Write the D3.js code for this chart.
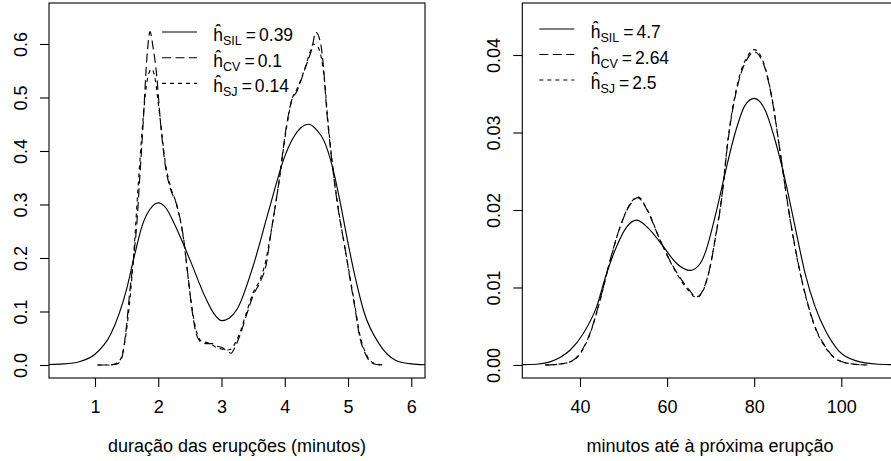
<!DOCTYPE html>
<html><head><meta charset="utf-8">
<script src="https://cdn.jsdelivr.net/npm/d3@7"></script>
<style>
body{margin:0;background:#fff}
svg{display:block}
text{font-family:"Liberation Sans",Arial,Helvetica,sans-serif;fill:#000}
</style>
</head><body>
<svg id="c" width="891" height="461"></svg>
<script>
// ---------- data: eruption duration (left panel) ----------
const erupTicksX = [1, 2, 3, 4, 5, 6];
const erupTicksY = [0, 0.1, 0.2, 0.3, 0.4, 0.5, 0.6];
const erupTitle = "duração das erupções (minutos)";

const erupSilX = [0.27,0.5,0.75,1.0,1.25,1.5,1.625,1.75,1.875,2.0,2.125,2.25,2.5,2.75,2.875,3.0,3.125,3.25,3.5,3.75,4.0,4.125,4.25,4.375,4.5,4.625,4.75,4.875,5.0,5.125,5.25,5.5,5.75,6.0,6.22];
const erupSilY = [0.001,0.002,0.006,0.02,0.058,0.142,0.205,0.262,0.292,0.303,0.293,0.265,0.197,0.125,0.097,0.083,0.088,0.105,0.185,0.29,0.39,0.423,0.443,0.45,0.44,0.418,0.372,0.305,0.228,0.158,0.1,0.038,0.009,0.002,0.0005];

const erupCvX = [1.04,1.2,1.35,1.42,1.5,1.55,1.61,1.66,1.71,1.76,1.82,1.87,1.92,1.975,2.03,2.11,2.19,2.29,2.40,2.475,2.53,2.61,2.69,2.77,2.85,2.93,3.0,3.09,3.15,3.22,3.29,3.40,3.5,3.61,3.71,3.77,3.90,4.03,4.11,4.19,4.32,4.43,4.49,4.56,4.61,4.66,4.74,4.85,4.95,5.03,5.11,5.19,5.27,5.35,5.45,5.56];
const erupCvY = [0,0,0.002,0.012,0.075,0.137,0.2,0.262,0.355,0.449,0.573,0.623,0.592,0.542,0.461,0.374,0.33,0.3,0.237,0.162,0.106,0.055,0.042,0.040,0.040,0.035,0.033,0.026,0.022,0.035,0.055,0.095,0.13,0.155,0.19,0.237,0.336,0.449,0.495,0.511,0.554,0.592,0.622,0.605,0.56,0.48,0.386,0.287,0.22,0.162,0.106,0.05,0.022,0.006,0.001,0];

const erupSjX = [1.04,1.2,1.3,1.4,1.48,1.55,1.62,1.68,1.74,1.8,1.85,1.9,1.95,2.0,2.05,2.11,2.19,2.29,2.40,2.475,2.53,2.61,2.69,2.77,2.85,2.93,3.0,3.08,3.15,3.22,3.29,3.40,3.5,3.61,3.71,3.77,3.90,4.03,4.11,4.19,4.32,4.40,4.45,4.52,4.58,4.63,4.68,4.74,4.85,4.95,5.03,5.11,5.19,5.27,5.35,5.45,5.56];
const erupSjY = [0,0,0.001,0.01,0.05,0.12,0.22,0.33,0.43,0.51,0.545,0.553,0.535,0.49,0.44,0.38,0.335,0.3,0.235,0.16,0.11,0.06,0.044,0.042,0.038,0.032,0.03,0.028,0.03,0.042,0.06,0.1,0.135,0.16,0.2,0.24,0.335,0.445,0.495,0.515,0.555,0.585,0.6,0.595,0.573,0.53,0.46,0.39,0.29,0.22,0.165,0.11,0.055,0.025,0.008,0.002,0];

const erupLegendSubs = ["SIL", "CV", "SJ"];
const erupLegendVals = ["0.39", "0.1", "0.14"];

// ---------- data: waiting time (right panel) ----------
const waitTicksX = [40, 60, 80, 100];
const waitTicksY = [0, 0.01, 0.02, 0.03, 0.04];
const waitTitle = "minutos até à próxima erupção";

const waitSilX = [26.75,30,33.1,35.5,37.7,40.8,43.8,46.1,48.4,50.7,53.0,56.1,59.1,62.2,65.3,67.6,68.7,71.0,73.3,75.6,77.9,80.0,82.5,84.8,87.1,89.4,91.7,94.0,96.3,99.3,103.1,108.5,112.95];
const waitSilY = [0.00005,0.0001,0.0004,0.001,0.0019,0.0041,0.0075,0.0118,0.0153,0.0178,0.0187,0.0174,0.0153,0.0131,0.0122,0.0131,0.0144,0.0191,0.0247,0.0299,0.0335,0.0344,0.0329,0.029,0.0239,0.0178,0.0118,0.0075,0.0045,0.0019,0.0006,0.0001,0.00003];

const waitCvX = [32,35,37.7,40,42.3,44.6,46.9,49.2,51.5,53.3,55.3,58.4,61.4,64.5,66.8,68.7,70,71.0,72.5,74.0,76.3,78.3,80.0,82.1,84.0,85.9,87.8,89.8,91.7,94.0,96.3,99.3,103,106];
const waitCvY = [0,0.0001,0.0004,0.0015,0.0041,0.0084,0.0135,0.0178,0.0207,0.0216,0.0201,0.0161,0.0127,0.0101,0.0088,0.0103,0.013,0.0161,0.0213,0.029,0.0363,0.0394,0.0404,0.0389,0.0346,0.0277,0.0204,0.014,0.0092,0.0049,0.0024,0.0006,0.0001,0];

const waitSjX = [32,35,37.7,40,42.3,44.6,46.9,49.2,51.5,53.3,55.3,58.4,61.4,64.5,66.8,68.7,70,71.0,72.5,74.0,76.3,78.3,80.0,82.1,84.0,85.9,87.8,89.8,91.7,94.0,96.3,99.3,103,106];
const waitSjY = [0,0.0001,0.0004,0.0014,0.004,0.0083,0.0134,0.0178,0.0208,0.0217,0.0202,0.0161,0.0126,0.0099,0.0087,0.0102,0.013,0.0162,0.0215,0.0292,0.0366,0.0397,0.0407,0.0391,0.0347,0.0277,0.0203,0.0139,0.0091,0.0048,0.0023,0.0006,0.0001,0];

const waitLegendSubs = ["SIL", "CV", "SJ"];
const waitLegendVals = ["4.7", "2.64", "2.5"];

// ---------- styles ----------
const dashes = [null, "9,4.5", "4,4"];
const svg = d3.select("#c");
svg.append("rect").attr("width", 891).attr("height", 461).attr("fill", "#fff");

function zip(xs, ys) { return xs.map((v, i) => [v, ys[i]]); }

function panel(cfg) {
  const x = d3.scaleLinear().domain(cfg.xDomain).range([cfg.left, cfg.right]);
  const y = d3.scaleLinear().domain(cfg.yDomain).range([cfg.bottom, cfg.top]);
  const g = svg.append("g");
  const clipId = "clip" + cfg.id;
  g.append("clipPath").attr("id", clipId).append("rect")
    .attr("x", cfg.left).attr("y", cfg.top)
    .attr("width", cfg.right - cfg.left).attr("height", cfg.bottom - cfg.top);

  const line = d3.line().x(d => x(d[0])).y(d => y(d[1])).curve(d3.curveMonotoneX);
  const cg = g.append("g").attr("clip-path", `url(#${clipId})`);
  cfg.series.forEach((s, i) => {
    cg.append("path").attr("d", line(zip(s[0], s[1])))
      .attr("fill", "none").attr("stroke", "#000").attr("stroke-width", 1.15)
      .attr("stroke-dasharray", dashes[i]);
  });

  // box
  g.append("rect").attr("x", cfg.left).attr("y", cfg.top)
    .attr("width", cfg.right - cfg.left).attr("height", cfg.bottom - cfg.top)
    .attr("fill", "none").attr("stroke", "#000").attr("stroke-width", 1.1);

  // x axis
  const ax = g.append("g").attr("transform", `translate(0,${cfg.bottom})`)
    .call(d3.axisBottom(x).tickValues(cfg.ticksX).tickSize(9).tickFormat(d3.format("d")));
  ax.select(".domain").remove();
  ax.selectAll("line").attr("stroke-width", 1.1);
  ax.selectAll("text").attr("y", 35).attr("dy", 0).attr("font-size", 18)
    .attr("font-family", null);

  // y axis
  const ay = g.append("g").attr("transform", `translate(${cfg.left},0)`)
    .call(d3.axisLeft(y).tickValues(cfg.ticksY).tickSize(9).tickFormat(d3.format(cfg.yFmt)));
  ay.select(".domain").remove();
  ay.selectAll("line").attr("stroke-width", 1.1);
  ay.selectAll("text").attr("x", 0).attr("y", 0).attr("dy", 0)
    .attr("text-anchor", "middle").attr("font-size", 18).attr("font-family", null)
    .attr("transform", "translate(-22,0) rotate(-90)");

  // axis title
  g.append("text").attr("x", cfg.titleX).attr("y", 452).attr("text-anchor", "middle")
    .attr("font-size", 18).text(cfg.title);

  // legend: ĥ with subscript, "=", value
  const fs = 17.5;
  cfg.legendSubs.forEach((sub, i) => {
    const ly = cfg.legendY + i * cfg.legendStep;
    g.append("line").attr("x1", cfg.legendX).attr("x2", cfg.legendX + 35)
      .attr("y1", ly).attr("y2", ly).attr("stroke", "#000").attr("stroke-width", 1.15)
      .attr("stroke-dasharray", dashes[i]);
    const t = g.append("text").attr("x", cfg.legendTextX).attr("y", ly + 9).attr("font-size", fs);
    t.append("tspan").text("\u0125");
    t.append("tspan").attr("font-size", 12.5).attr("dy", 4).text(sub);
    t.append("tspan").attr("dy", -4).attr("dx", 4).text("=");
    t.append("tspan").attr("dx", 3).text(cfg.legendVals[i]);
  });
}

panel({
  id: "L", left: 49, right: 425, top: 3, bottom: 378,
  xDomain: [0.273, 6.217], yDomain: [-0.0243, 0.6766],
  ticksX: erupTicksX, ticksY: erupTicksY, yFmt: ".1f",
  series: [[erupSilX, erupSilY], [erupCvX, erupCvY], [erupSjX, erupSjY]],
  title: erupTitle, titleX: 237,
  legendSubs: erupLegendSubs, legendVals: erupLegendVals,
  legendX: 162, legendY: 32, legendStep: 25.7, legendTextX: 213.3
});

panel({
  id: "R", left: 522.3, right: 897.7, top: 3, bottom: 378,
  xDomain: [26.75, 112.95], yDomain: [-0.00168, 0.04671],
  ticksX: waitTicksX, ticksY: waitTicksY, yFmt: ".2f",
  series: [[waitSilX, waitSilY], [waitCvX, waitCvY], [waitSjX, waitSjY]],
  title: waitTitle, titleX: 710,
  legendSubs: waitLegendSubs, legendVals: waitLegendVals,
  legendX: 539.3, legendY: 29, legendStep: 25.5, legendTextX: 590.7
});
</script>
</body></html>
